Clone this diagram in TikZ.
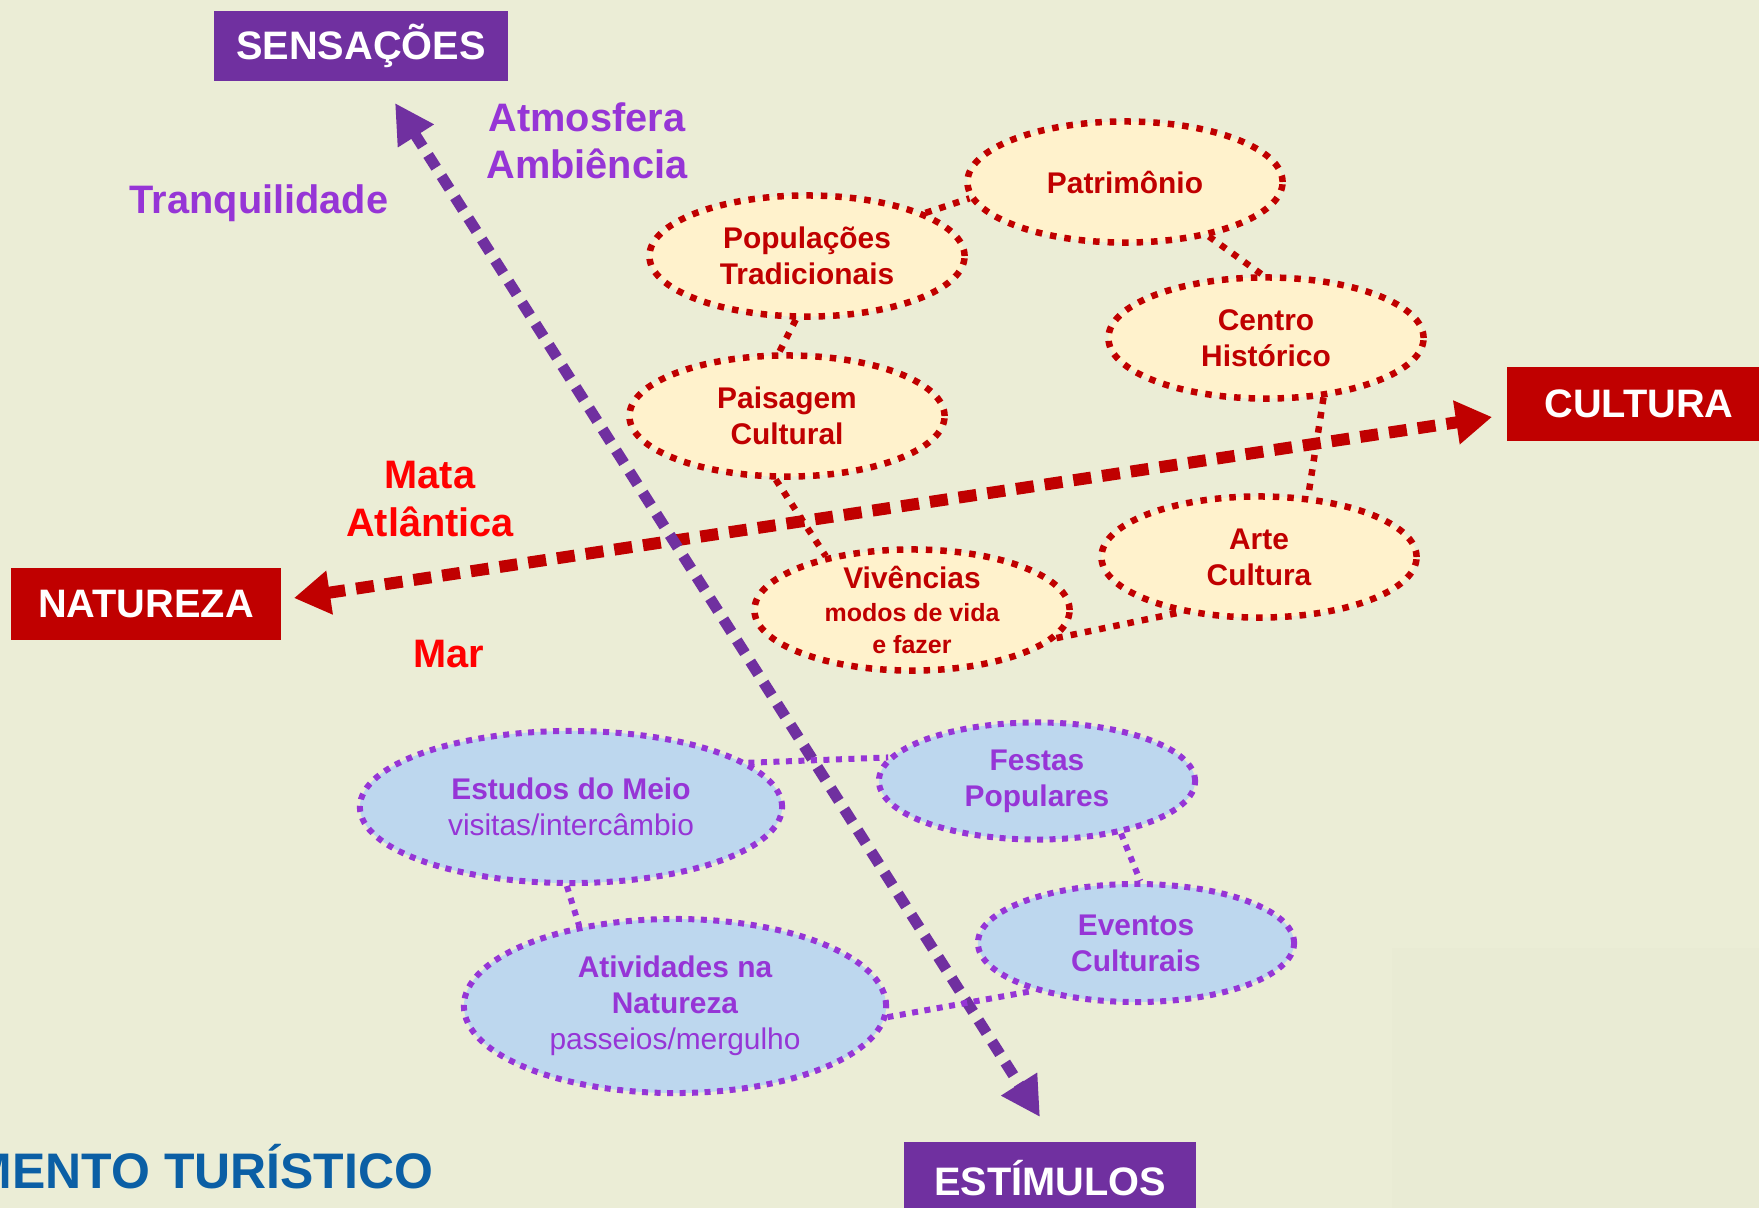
\documentclass[tikz,border=0pt]{standalone}
\usepackage{fontspec}
\setmainfont{Liberation Sans}
\usetikzlibrary{arrows.meta,shapes.geometric}

\definecolor{fundo}{HTML}{EBEDD6}
\definecolor{fundob}{HTML}{E9EBD4}
\definecolor{roxo}{HTML}{7030A0}
\definecolor{lilas}{HTML}{9635D6}
\definecolor{vinho}{HTML}{C00000}
\definecolor{vermelho}{HTML}{FF0000}
\definecolor{creme}{HTML}{FFF2CC}
\definecolor{azulclaro}{HTML}{BDD7EE}
\definecolor{azul}{HTML}{0B5FA5}

\newcommand{\fonteeixo}{\fontsize{11.3}{13.4}\selectfont\bfseries}
\newcommand{\fonteoval}{\fontsize{8.5}{10.3}\selectfont\bfseries}
\newcommand{\fontemenor}{\fontsize{7.1}{8.2}\selectfont\bfseries}
\newcommand{\fontetitulo}{\fontsize{14.2}{17}\selectfont\bfseries}

\begin{document}
\begin{tikzpicture}[x=0.01cm,y=-0.01cm,
    eixo/.style={rectangle,inner sep=0pt,text=white,font=\fonteeixo},
    ovalvermelho/.style={ellipse,draw=vinho,fill=creme,text=vinho,line width=0.65mm,
      dash pattern=on 0.65mm off 0.8mm,inner sep=0pt,minimum width=3.15cm,
      minimum height=1.21cm,align=center,font=\fonteoval},
    ovalazul/.style={ellipse,draw=lilas,fill=azulclaro,text=lilas,line width=0.6mm,
      dash pattern=on 0.6mm off 0.65mm,inner sep=0pt,minimum width=3.16cm,
      minimum height=1.17cm,align=center,font=\fonteoval},
    elovermelho/.style={draw=vinho,line width=0.65mm,dash pattern=on 0.65mm off 0.8mm},
    eloazul/.style={draw=lilas,line width=0.6mm,dash pattern=on 0.6mm off 0.65mm},
    rotulo/.style={align=center,font=\fonteeixo,inner sep=0pt}]

    % Fundo
    \fill[fundo] (0,0) rectangle (1759,1208);
    \fill[fundob] (1392,948) rectangle (1759,1208);
    \useasboundingbox (0,0) rectangle (1759,1208);

    % Eixos
    \node[eixo,fill=roxo,minimum width=2.93cm,minimum height=0.70cm] (sens) at (361,46) {SENSAÇÕES};
    \node[eixo,fill=vinho,minimum width=2.64cm,minimum height=0.74cm] (cult) at (1639,404) {CULTURA};
    \node[eixo,fill=vinho,minimum width=2.69cm,minimum height=0.71cm] (natu) at (146,604) {NATUREZA};
    \node[eixo,fill=roxo,minimum width=2.91cm,minimum height=0.72cm] (estim) at (1050,1178) {ESTÍMULOS};

    \coordinate (natTip) at (294,598);
    \coordinate (culTip) at (1492,417);
    \coordinate (sensTip) at (395,103);
    \coordinate (estTip) at (1040,1117);

    \draw[vinho,line width=1.2mm,dash pattern=on 1.8mm off 1.1mm,
      {Triangle[length=3.6mm,width=4.2mm]}-{Triangle[length=3.6mm,width=4.2mm]}] (natTip) -- (culTip);
    \draw[roxo,line width=1.1mm,dash pattern=on 1.5mm off 1.0mm,
      {Triangle[length=3.9mm,width=4.0mm]}-{Triangle[length=3.9mm,width=4.0mm]}] (sensTip) -- (estTip);

    % Rotulos soltos
    \node[rotulo,text=lilas] (atmo) at (587,141) {Atmosfera\\Ambiência};
    \node[rotulo,text=lilas] (tranq) at (259,203) {Tranquilidade};
    \node[rotulo,text=vermelho] (mata) at (430,499) {Mata\\Atlântica};
    \node[rotulo,text=vermelho] (mar) at (449,654) {Mar};
    \node[anchor=base east,inner sep=0pt,text=azul,font=\fontetitulo] (titulo) at (434,1188) {MENTO TURÍSTICO};

    % Cultura
    \node[ovalvermelho] (patr) at (1125,182) {Patrimônio};
    \node[ovalvermelho] (popu) at (807,256) {Populações\\Tradicionais};
    \node[ovalvermelho] (cent) at (1266,338) {Centro\\Histórico};
    \node[ovalvermelho] (pais) at (787,416) {Paisagem\\Cultural};
    \node[ovalvermelho] (arte) at (1259,557) {Arte\\Cultura};
    \node[ovalvermelho,inner ysep=-0.5mm] (vive) at (912,610)
      {Vivências\\[-1pt]{\fontemenor modos de vida}\\[-1pt]{\fontemenor e fazer}};

    \draw[elovermelho] (popu.20) -- (patr.186);
    \draw[elovermelho] (patr.327) -- (cent.94);
    \draw[elovermelho] (popu.260) -- (pais.97);
    \draw[elovermelho] (pais.260) -- (vive.148);
    \draw[elovermelho] (cent.314) -- (arte.51);
    \draw[elovermelho] (vive.349) -- (arte.215);

    % Estimulos
    \node[ovalazul,minimum width=4.22cm,minimum height=1.52cm] (estu) at (571,807)
      {Estudos do Meio\\{\mdseries visitas/intercâmbio}};
    \node[ovalazul] (fest) at (1037,781) {Festas\\Populares};
    \node[ovalazul,minimum height=1.18cm] (even) at (1136,943) {Eventos\\Culturais};
    \node[ovalazul,minimum width=4.22cm,minimum height=1.74cm] (ativ) at (675,1006)
      {Atividades na\\Natureza\\{\mdseries passeios/mergulho}};

    \draw[eloazul] (estu.14) -- (fest.171);
    \draw[eloazul] (fest.328) -- (even.86);
    \draw[eloazul] (estu.267) -- (ativ.140);
    \draw[eloazul] (ativ.357) -- (even.205);
\end{tikzpicture}
\end{document}
